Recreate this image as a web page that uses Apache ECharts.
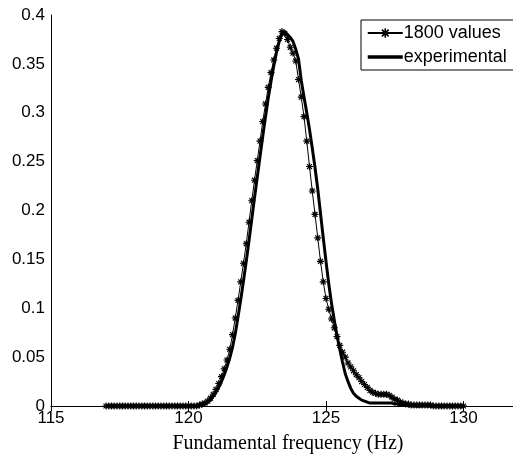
<!DOCTYPE html>
<html>
<head>
<meta charset="utf-8">
<script src="https://cdn.jsdelivr.net/npm/echarts@6/dist/echarts.min.js"></script>
<style>
html,body{margin:0;padding:0;background:#fff;}
#chart{width:513px;height:459px;}
</style>
</head>
<body>
<div id="chart"></div>
<script>
var xs = [
117.0,117.1,117.2,117.3,117.4,117.5,117.6,117.7,117.8,117.9,
118.0,118.1,118.2,118.3,118.4,118.5,118.6,118.7,118.8,118.9,
119.0,119.1,119.2,119.3,119.4,119.5,119.6,119.7,119.8,119.9,
120.0,120.1,120.2,120.3,120.4,120.5,120.6,120.7,120.8,120.9,
121.0,121.1,121.2,121.3,121.4,121.5,121.6,121.7,121.8,121.9,
122.0,122.1,122.2,122.3,122.4,122.5,122.6,122.7,122.8,122.9,
123.0,123.1,123.2,123.3,123.4,123.5,123.6,123.7,123.8,123.9,
124.0,124.1,124.2,124.3,124.4,124.5,124.6,124.7,124.8,124.9,
125.0,125.1,125.2,125.3,125.4,125.5,125.6,125.7,125.8,125.9,
126.0,126.1,126.2,126.3,126.4,126.5,126.6,126.7,126.8,126.9,
127.0,127.1,127.2,127.3,127.4,127.5,127.6,127.7,127.8,127.9,
128.0,128.1,128.2,128.3,128.4,128.5,128.6,128.7,128.8,128.9,
129.0,129.1,129.2,129.3,129.4,129.5,129.6,129.7,129.8,129.9,
130.0
];
var sim1800 = [
0,0,0,0,0,0,0,0,0,0,
0,0,0,0,0,0,0,0,0,0,
0,0,0,0,0,0,0,0,0,0,
0,0,0,0,0.001,0.002,0.003,0.005,0.008,0.012,
0.017,0.023,0.030,0.038,0.047,0.058,0.073,0.090,0.108,0.127,
0.146,0.166,0.188,0.210,0.231,0.251,0.271,0.291,0.309,0.326,
0.341,0.354,0.366,0.376,0.383,0.381,0.375,0.367,0.361,0.353,
0.334,0.316,0.296,0.271,0.245,0.220,0.196,0.172,0.148,0.127,
0.110,0.099,0.089,0.080,0.071,0.062,0.055,0.050,0.044,0.040,
0.036,0.032,0.029,0.025,0.022,0.019,0.016,0.014,0.013,0.012,
0.012,0.012,0.012,0.011,0.009,0.007,0.006,0.004,0.003,0.002,
0.002,0.001,0.001,0.001,0.001,0.001,0.001,0.001,0.001,0,
0,0,0,0,0,0,0,0,0,0,
0
];
var experimental = [
0,0,0,0,0,0,0,0,0,0,
0,0,0,0,0,0,0,0,0,0,
0,0,0,0,0,0,0,0,0,0,
0,0,0,0,0.001,0.001,0.002,0.004,0.006,0.010,
0.014,0.019,0.025,0.032,0.040,0.049,0.060,0.074,0.091,0.109,
0.128,0.148,0.169,0.191,0.213,0.234,0.255,0.276,0.296,0.315,
0.332,0.348,0.362,0.373,0.381,0.383,0.380,0.377,0.373,0.365,
0.355,0.333,0.316,0.300,0.283,0.264,0.244,0.222,0.197,0.172,
0.148,0.125,0.105,0.088,0.072,0.058,0.045,0.033,0.025,0.018,
0.013,0.010,0.008,0.006,0.005,0.004,0.003,0.003,0.003,0.003,
0.003,0.003,0.003,0.003,0.003,0.002,0.002,0.001,0.001,0.001,
0,0,0,0,0,0,0,0,0,0,
0,0,0,0,0,0,0,0,0,0,
0
];
var seriesNames = ['1800 values', 'experimental'];
var xAxisTitle = 'Fundamental frequency (Hz)';

function pairs(ys){ return xs.map(function(x,i){ return [x, ys[i]]; }); }

var starPath = 'path://M4.2,0h1.6v10h-1.6zM0,4.2h10v1.6h-10zM0.9,2.1l1.2,-1.2l7.0,7.0l-1.2,1.2zM7.9,0.9l1.2,1.2l-7.0,7.0l-1.2,-1.2z';

var chart = echarts.init(document.getElementById('chart'), null, {renderer:'canvas'});
chart.setOption({
  animation:false,
  backgroundColor:'#fff',
  grid:{left:51, top:15, right:0, bottom:44, containLabel:false},
  legend:{
    left:361, top:20,
    orient:'vertical',
    itemWidth:35, itemHeight:12, itemGap:6,
    padding:[4,20,4,5],
    borderColor:'#000', borderWidth:1,
    backgroundColor:'#fff',
    textStyle:{fontFamily:'Liberation Sans', fontSize:18, color:'#000', padding:[0,0,0,-4]},
    data:[
      {name:seriesNames[0], itemStyle:{color:'#000'}},
      {name:seriesNames[1], itemStyle:{color:'rgba(0,0,0,0)', borderWidth:0, opacity:0}, lineStyle:{color:'#000', width:3.5, opacity:1}}
    ]
  },
  xAxis:[{
    type:'value', min:115, max:131.8, interval:5, position:'bottom',
    name:xAxisTitle, nameLocation:'middle', nameGap:28,
    nameTextStyle:{fontFamily:'Liberation Serif', fontSize:20, color:'#000', padding:[0,0,0,12]},
    axisLine:{show:true, onZero:false, lineStyle:{color:'#000', width:1}},
    axisTick:{show:true, inside:true, length:5, lineStyle:{color:'#000'}},
    axisLabel:{fontFamily:'Liberation Sans', fontSize:17, color:'#000', margin:4, showMaxLabel:false,
      formatter:function(v){ return (v % 5 === 0) ? String(v) : ''; }},
    splitLine:{show:false}
  },{
    type:'value', min:115, max:131.8, interval:5, position:'top',
    axisLine:{show:true, lineStyle:{color:'#000', width:1}},
    axisTick:{show:true, inside:true, length:5, lineStyle:{color:'#000'}},
    axisLabel:{show:false},
    splitLine:{show:false}
  }],
  yAxis:{
    type:'value', min:0, max:0.4, interval:0.05,
    axisLine:{show:true, lineStyle:{color:'#000', width:1}},
    axisTick:{show:false},
    axisLabel:{fontFamily:'Liberation Sans', fontSize:17, color:'#000', margin:6},
    splitLine:{show:false}
  },
  series:[{
    name:seriesNames[0], type:'line', xAxisIndex:0,
    data:pairs(sim1800),
    symbol:starPath, symbolSize:7, showAllSymbol:true,
    lineStyle:{color:'#000', width:1},
    itemStyle:{color:'#000'},
    z:3
  },{
    name:seriesNames[1], type:'line', xAxisIndex:0,
    data:pairs(experimental),
    symbol:'none',
    lineStyle:{color:'#000', width:3},
    itemStyle:{color:'#000'},
    z:2
  }]
});
</script>
</body>
</html>
